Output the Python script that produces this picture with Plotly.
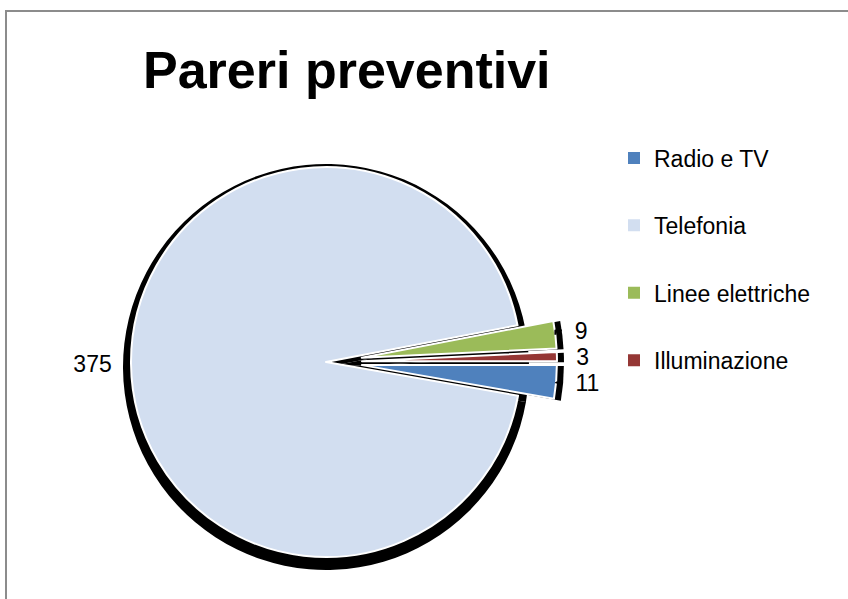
import plotly.graph_objects as go

# ---- data ----
categories = ["Radio e TV", "Telefonia", "Linee elettriche", "Illuminazione"]
values = [11, 375, 9, 3]
colors = ["#4F81BD", "#D2DEF0", "#9BBB59", "#953735"]
exploded = [True, False, True, True]
title_text = "Pareri preventivi"

W, H = 848, 599
FONT = "Liberation Sans"
PULL_PX = 36  # explosion distance in pixels

# geometry helpers (layout only, pixel -> paper fractions)
def dom(cx, cy, r, pull_frac):
    half = r * (1 + pull_frac)
    return dict(x=[(cx - half) / W, (cx + half) / W],
                y=[(H - cy - half) / H, (H - cy + half) / H])

def pulls_for(r):
    return [PULL_PX / r if e else 0.0 for e in exploded]

main_r, main_c = 195, (326, 362)
shA_r, shA_c = 203, (326, 367)
shB_r, shB_c = 200, (328, 363)

fig = go.Figure()

# drop shadow of the whole (unexploded) pie
fig.add_trace(go.Pie(
    labels=categories, values=values, sort=False, direction="clockwise",
    rotation=90, domain=dom(*shA_c, shA_r, 0),
    marker=dict(colors=["#000000"] * len(values), line=dict(width=0)),
    textinfo="none", hoverinfo="skip", showlegend=False,
))
# drop shadow of the exploded slices
fig.add_trace(go.Pie(
    labels=categories, values=values, sort=False, direction="clockwise",
    rotation=90, pull=pulls_for(shB_r),
    domain=dom(*shB_c, shB_r, max(pulls_for(shB_r))),
    marker=dict(colors=["#000000" if e else "rgba(0,0,0,0)" for e in exploded],
                line=dict(width=0)),
    textinfo="none", hoverinfo="skip", showlegend=False,
))

# main pie
NB = "\u00a0"
fig.add_trace(go.Pie(
    labels=categories, values=values, sort=False, direction="clockwise",
    rotation=90, pull=pulls_for(main_r),
    domain=dom(*main_c, main_r, max(pulls_for(main_r))),
    marker=dict(colors=colors, line=dict(color="white", width=2)),
    textinfo="value", texttemplate=NB * 2 + "%{value}" + NB * 2,
    textposition="outside",
    outsidetextfont=dict(family=FONT, size=23, color="#000000"),
    showlegend=False,
))

# legend entries
for name, col in zip(categories, colors):
    fig.add_trace(go.Scatter(
        x=[None], y=[None], mode="markers", name=name,
        legendgroup=name,
        marker=dict(symbol="square", size=12, color=col),
    ))

# chart-area frame
fig.add_shape(type="rect", xref="paper", yref="paper",
              x0=6 / W, x1=1.05, y0=-0.05, y1=(H - 11) / H,
              line=dict(color="#8C8C8C", width=2), fillcolor="rgba(0,0,0,0)",
              layer="below")

fig.update_layout(
    width=W, height=H,
    margin=dict(l=0, r=0, t=0, b=0, autoexpand=False),
    paper_bgcolor="white", plot_bgcolor="white",
    font=dict(family=FONT, color="#000000"),
    title=dict(text=title_text, x=143 / W, xanchor="left", xref="container",
               y=1 - 69.5 / H, yref="container", yanchor="middle",
               font=dict(family=FONT, size=52, color="#000000", weight="bold")),
    xaxis=dict(visible=False), yaxis=dict(visible=False),
    legend=dict(x=614 / W, xanchor="left", y=1 - 136.5 / H, yanchor="top",
                font=dict(family=FONT, size=23, color="#000000"),
                traceorder="grouped", tracegroupgap=34.5,
                bgcolor="rgba(0,0,0,0)"),
    showlegend=True,
)

fig.write_html("out.html", config={"displayModeBar": False},
               post_script="document.body.style.margin='0';")
